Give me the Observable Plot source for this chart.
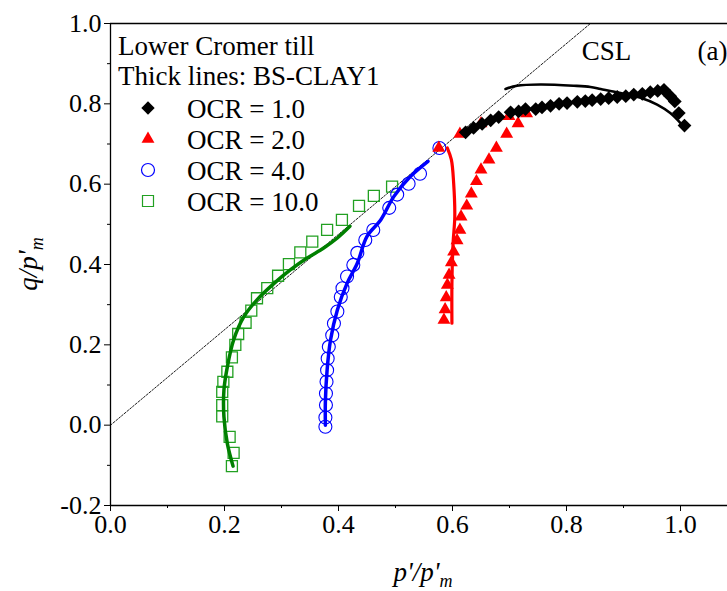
<!DOCTYPE html>
<html><head><meta charset="utf-8">
<script src="https://cdn.jsdelivr.net/npm/d3@7"></script>
<script src="https://cdn.jsdelivr.net/npm/@observablehq/plot@0.6"></script>
<style>
html,body{margin:0;padding:0;background:#fff;overflow:hidden}
#chart{width:727px;height:591px}
#chart svg, #chart svg text{font-family:"Liberation Serif","Times New Roman",serif !important}
</style>
</head><body><div id="chart"></div>
<script>
// ---- data (p'/p'm , q/p'm) ----
const ocr1P = [0.623,0.637,0.652,0.667,0.681,0.702,0.716,0.728,0.746,0.757,0.772,0.787,0.801,0.819,0.833,0.845,0.860,0.874,0.889,0.904,0.918,0.933,0.947,0.960,0.971,0.982,0.990,0.997,1.007];
const ocr1Q = [0.729,0.740,0.750,0.759,0.767,0.779,0.781,0.787,0.787,0.791,0.795,0.800,0.802,0.805,0.807,0.809,0.812,0.814,0.817,0.819,0.823,0.825,0.829,0.832,0.835,0.819,0.806,0.777,0.746];
const bs1P = [0.693,0.713,0.754,0.813,0.842,0.860,0.895,0.930,0.959,0.982,1.000];
const bs1Q = [0.837,0.845,0.848,0.845,0.842,0.837,0.827,0.815,0.798,0.777,0.752];

const ocr2P = [0.585,0.587,0.589,0.591,0.594,0.598,0.602,0.608,0.613,0.615,0.625,0.633,0.642,0.650,0.664,0.677,0.695,0.715,0.730,0.699,0.650,0.613,0.576];
const ocr2Q = [0.262,0.288,0.318,0.349,0.374,0.405,0.432,0.460,0.486,0.519,0.546,0.576,0.607,0.636,0.661,0.690,0.725,0.751,0.776,0.769,0.751,0.725,0.690];
const bs2P = [0.591,0.598,0.602,0.604,0.601,0.599,0.599];
const bs2Q = [0.690,0.661,0.603,0.519,0.453,0.353,0.254];

const ocr4P = [0.377,0.377,0.378,0.378,0.379,0.380,0.381,0.383,0.389,0.392,0.398,0.404,0.407,0.415,0.426,0.433,0.447,0.461,0.489,0.503,0.523,0.543,0.577];
const ocr4Q = [-0.004,0.019,0.050,0.079,0.108,0.137,0.166,0.195,0.224,0.253,0.283,0.319,0.341,0.370,0.399,0.429,0.461,0.486,0.541,0.574,0.601,0.626,0.690];
const bs4P = [0.377,0.377,0.380,0.386,0.398,0.415,0.433,0.450,0.474,0.497,0.526,0.557];
const bs4Q = [0.000,0.060,0.137,0.212,0.287,0.353,0.403,0.470,0.511,0.569,0.619,0.657];

const ocr10P = [0.213,0.216,0.209,0.196,0.196,0.196,0.198,0.205,0.213,0.219,0.224,0.237,0.247,0.257,0.275,0.294,0.313,0.333,0.354,0.380,0.406,0.436,0.462,0.494];
const ocr10Q = [-0.102,-0.069,-0.029,0.022,0.050,0.083,0.108,0.133,0.169,0.200,0.227,0.255,0.285,0.316,0.341,0.372,0.401,0.430,0.457,0.486,0.511,0.546,0.571,0.594];
const bs10P = [0.215,0.205,0.199,0.199,0.205,0.216,0.234,0.257,0.287,0.316,0.345,0.374,0.398,0.420];
const bs10Q = [-0.102,-0.046,0.021,0.087,0.145,0.212,0.270,0.312,0.353,0.387,0.416,0.441,0.466,0.495];

const cslP = [0, 0.842];
const cslQ = [0, 1.0];

const xTicks = [0, 0.2, 0.4, 0.6, 0.8, 1.0];
const xMinor = [0.1, 0.3, 0.5, 0.7, 0.9, 1.1];
const yTicks = [-0.2, 0, 0.2, 0.4, 0.6, 0.8, 1.0];
const yMinor = [-0.1, 0.1, 0.3, 0.5, 0.7, 0.9];

const legendLabels = ["OCR = 1.0", "OCR = 2.0", "OCR = 4.0", "OCR = 10.0"];
const titleLines = ["Lower Cromer till", "Thick lines: BS-CLAY1"];

// ---- helpers ----
const zip = (P, Q) => P.map((p, i) => ({p, q: Q[i]}));
const font = "Liberation Serif, Times New Roman, serif";
const green = "#22a022";

const plot = Plot.plot({
  width: 727, height: 591,
  marginLeft: 110, marginRight: 0, marginTop: 23, marginBottom: 86,
  x: {domain: [0, 1.1], range: [110, 737]},
  y: {domain: [-0.2, 1.0], range: [505, 23]},
  style: {fontFamily: font, background: "white"},
  marks: [
    Plot.line(zip(cslP, cslQ), {x: "p", y: "q", stroke: "black", strokeWidth: 0.9, strokeDasharray: "2,1.6"}),
    Plot.dot(zip(ocr10P, ocr10Q), {x: "p", y: "q", symbol: "square", r: 6.2, stroke: green, strokeWidth: 1.3, fill: "none"}),
    Plot.dot(zip(ocr4P, ocr4Q), {x: "p", y: "q", symbol: "circle", r: 6.5, stroke: "#0000ff", strokeWidth: 1.1, fill: "none"}),
    Plot.dot(zip(ocr2P, ocr2Q), {x: "p", y: "q", symbol: "triangle", r: 4.8, fill: "#ff0000", stroke: "none"}),
    Plot.dot(zip(ocr1P, ocr1Q), {x: "p", y: "q", symbol: "diamond2", r: 6.2, fill: "black", stroke: "none"}),
    Plot.line(zip(bs10P, bs10Q), {x: "p", y: "q", stroke: "#008000", strokeWidth: 3.5, curve: "catmull-rom"}),
    Plot.line(zip(bs4P, bs4Q), {x: "p", y: "q", stroke: "#0000ff", strokeWidth: 3.5, curve: "catmull-rom"}),
    Plot.line(zip(bs2P, bs2Q), {x: "p", y: "q", stroke: "#ff0000", strokeWidth: 3.2, curve: "catmull-rom"}),
    Plot.line(zip(bs1P, bs1Q), {x: "p", y: "q", stroke: "black", strokeWidth: 2.6, curve: "catmull-rom"}),
    Plot.text(["CSL"], {x: 0.870, y: 0.930, text: d => d, fontSize: 27, textAnchor: "middle", lineAnchor: "middle", fill: "black"}),
    Plot.text(["(a)"], {x: 1.030, y: 0.930, text: d => d, fontSize: 27, textAnchor: "start", lineAnchor: "middle", fill: "black"}),
    Plot.ruleY([-0.2, 1.0], {stroke: "black", strokeWidth: 1.3}),
    Plot.ruleX([0], {stroke: "black", strokeWidth: 1.3}),
    Plot.axisX(xTicks, {tickSize: 6, tickPadding: 3, fontSize: 26, tickFormat: d => d.toFixed(1), label: null, stroke: "black", color: "black"}),
    Plot.axisX(xMinor, {tickSize: 3, tickFormat: () => "", label: null, stroke: "black"}),
    Plot.axisY(yTicks, {tickSize: 6, tickPadding: 3, fontSize: 26, tickFormat: d => d.toFixed(1), label: null, stroke: "black", color: "black"}),
    Plot.axisY(yMinor, {tickSize: 3, tickFormat: () => "", label: null, stroke: "black"})
  ]
});
document.getElementById("chart").appendChild(plot);

// ---- legend / titles / axis titles (real SVG text) ----
const svg = d3.select(plot);
const g = svg.append("g").attr("fill", "black").attr("text-anchor", "start");
titleLines.forEach((t, i) => {
  g.append("text").attr("x", 118).attr("y", 55 + i * 30).attr("font-size", 27).attr("text-anchor", "start").text(t);
});
const legSym = [
  {type: d3.symbolDiamond2, r: 6.0, fill: "black", stroke: "none"},
  {type: d3.symbolTriangle, r: 4.8, fill: "#ff0000", stroke: "none"},
  {type: d3.symbolCircle, r: 6.5, fill: "none", stroke: "#0000ff"},
  {type: d3.symbolSquare, r: 6.2, fill: "none", stroke: green}
];
legendLabels.forEach((t, i) => {
  const cy = 108 + i * 31;
  const s = legSym[i];
  g.append("path")
    .attr("d", d3.symbol(s.type, Math.PI * s.r * s.r)())
    .attr("transform", `translate(148,${cy})`)
    .attr("fill", s.fill).attr("stroke", s.stroke).attr("stroke-width", 1.2);
  g.append("text").attr("x", 187).attr("y", cy + 10).attr("font-size", 27).attr("text-anchor", "start").text(t);
});
// x title
const xt = g.append("text").attr("x", 423).attr("y", 581).attr("text-anchor", "middle")
  .attr("font-size", 27).attr("font-style", "italic");
xt.append("tspan").text("p'/p'");
xt.append("tspan").attr("font-size", 18).attr("dy", 6).text("m");
// y title
const yt = g.append("text").attr("transform", "translate(37,264) rotate(-90)").attr("text-anchor", "middle")
  .attr("font-size", 27).attr("font-style", "italic");
yt.append("tspan").text("q/p'");
yt.append("tspan").attr("font-size", 18).attr("dy", 6).text("m");

// force the serif face on every text node
svg.selectAll("text, tspan").style("font-family", "'Liberation Serif', serif", "important");
</script>
</body></html>
